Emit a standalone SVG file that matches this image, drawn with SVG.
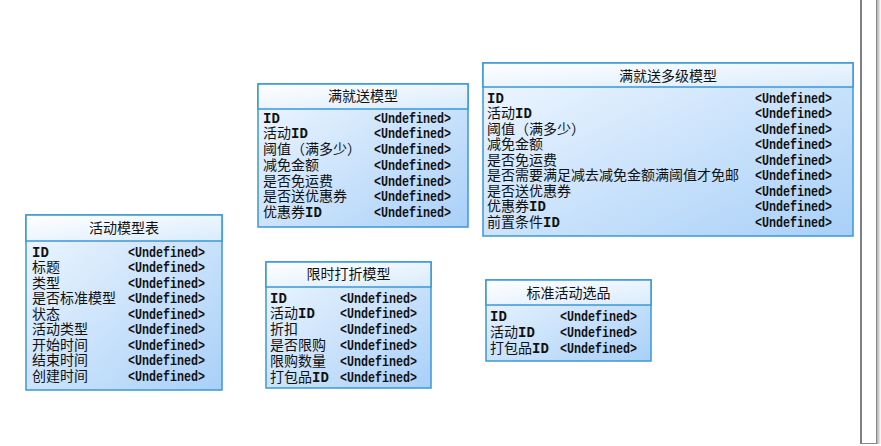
<svg xmlns="http://www.w3.org/2000/svg" width="881" height="446" viewBox="0 0 881 446">
<defs>
<linearGradient id="gHead" x1="0" y1="0" x2="1" y2="1">
<stop offset="0" stop-color="#ffffff"/>
<stop offset="1" stop-color="#d9ebfc"/>
</linearGradient>
<linearGradient id="gBody" x1="0" y1="0" x2="1" y2="1">
<stop offset="0" stop-color="#f0f7ff"/>
<stop offset="1" stop-color="#a9d0f8"/>
</linearGradient>
<linearGradient id="gShadow" x1="0" y1="0" x2="1" y2="0">
<stop offset="0" stop-color="#9a9a9a"/>
<stop offset="1" stop-color="#ffffff"/>
</linearGradient>
<style>
.head{fill:url(#gHead);stroke:#3a98d6;stroke-width:1.5}
.body{fill:url(#gBody);stroke:#3a98d6;stroke-width:1.5}
.title{font-family:"Noto Sans CJK SC","Liberation Sans",sans-serif;font-size:14px;fill:#111;text-anchor:middle}
.lbl{font-family:"Liberation Mono","Noto Sans CJK SC",monospace;font-size:14px;fill:#111}
.lbl tspan{font-weight:bold}
.und{font-family:"Liberation Mono",monospace;font-size:14px;fill:#111;font-weight:bold}
</style>
</defs>
<rect width="881" height="446" fill="#ffffff"/>

<g id="frame">
<rect x="876" y="0" width="5" height="444" fill="url(#gShadow)"/>
<line x1="861" y1="0" x2="861" y2="444" stroke="#555" stroke-width="1.5"/>
<line x1="876.5" y1="0" x2="876.5" y2="443" stroke="#8a8a8a" stroke-width="1"/>
<line x1="861" y1="443.5" x2="877" y2="443.5" stroke="#8a8a8a" stroke-width="1"/>
</g>

<g id="connectors"></g>

<g id="t-activity">
<rect class="body" x="26" y="215" width="196" height="175"/>
<rect class="head" x="26" y="215" width="196" height="26"/>
<text class="title" x="124" y="233">活动模型表</text>
<text class="lbl" x="32" y="256.5"><tspan>ID</tspan></text>
<text class="lbl" x="32" y="272">标题</text>
<text class="lbl" x="32" y="287.5">类型</text>
<text class="lbl" x="32" y="303">是否标准模型</text>
<text class="lbl" x="32" y="318.5">状态</text>
<text class="lbl" x="32" y="334">活动类型</text>
<text class="lbl" x="32" y="349.5">开始时间</text>
<text class="lbl" x="32" y="365">结束时间</text>
<text class="lbl" x="32" y="380.5">创建时间</text>
<g class="und">
<text x="128" y="256.5" textLength="77" lengthAdjust="spacingAndGlyphs">&lt;Undefined&gt;</text>
<text x="128" y="272" textLength="77" lengthAdjust="spacingAndGlyphs">&lt;Undefined&gt;</text>
<text x="128" y="287.5" textLength="77" lengthAdjust="spacingAndGlyphs">&lt;Undefined&gt;</text>
<text x="128" y="303" textLength="77" lengthAdjust="spacingAndGlyphs">&lt;Undefined&gt;</text>
<text x="128" y="318.5" textLength="77" lengthAdjust="spacingAndGlyphs">&lt;Undefined&gt;</text>
<text x="128" y="334" textLength="77" lengthAdjust="spacingAndGlyphs">&lt;Undefined&gt;</text>
<text x="128" y="349.5" textLength="77" lengthAdjust="spacingAndGlyphs">&lt;Undefined&gt;</text>
<text x="128" y="365" textLength="77" lengthAdjust="spacingAndGlyphs">&lt;Undefined&gt;</text>
<text x="128" y="380.5" textLength="77" lengthAdjust="spacingAndGlyphs">&lt;Undefined&gt;</text>
</g>
</g>

<g id="t-manjiusong">
<rect class="body" x="258" y="84" width="210" height="143"/>
<rect class="head" x="258" y="84" width="210" height="25"/>
<text class="title" x="363" y="101">满就送模型</text>
<text class="lbl" x="263" y="122.5"><tspan>ID</tspan></text>
<text class="lbl" x="263" y="138.25">活动<tspan>ID</tspan></text>
<text class="lbl" x="263" y="154">阈值（满多少）</text>
<text class="lbl" x="263" y="169.75">减免金额</text>
<text class="lbl" x="263" y="185.5">是否免运费</text>
<text class="lbl" x="263" y="201.25">是否送优惠券</text>
<text class="lbl" x="263" y="217">优惠券<tspan>ID</tspan></text>
<g class="und">
<text x="374" y="122.5" textLength="77" lengthAdjust="spacingAndGlyphs">&lt;Undefined&gt;</text>
<text x="374" y="138.25" textLength="77" lengthAdjust="spacingAndGlyphs">&lt;Undefined&gt;</text>
<text x="374" y="154" textLength="77" lengthAdjust="spacingAndGlyphs">&lt;Undefined&gt;</text>
<text x="374" y="169.75" textLength="77" lengthAdjust="spacingAndGlyphs">&lt;Undefined&gt;</text>
<text x="374" y="185.5" textLength="77" lengthAdjust="spacingAndGlyphs">&lt;Undefined&gt;</text>
<text x="374" y="201.25" textLength="77" lengthAdjust="spacingAndGlyphs">&lt;Undefined&gt;</text>
<text x="374" y="217" textLength="77" lengthAdjust="spacingAndGlyphs">&lt;Undefined&gt;</text>
</g>
</g>

<g id="t-manjiusong-multi">
<rect class="body" x="483" y="63" width="370" height="173"/>
<rect class="head" x="483" y="63" width="370" height="24"/>
<text class="title" x="668" y="81">满就送多级模型</text>
<text class="lbl" x="487" y="102.5"><tspan>ID</tspan></text>
<text class="lbl" x="487" y="118">活动<tspan>ID</tspan></text>
<text class="lbl" x="487" y="133.5">阈值（满多少）</text>
<text class="lbl" x="487" y="149">减免金额</text>
<text class="lbl" x="487" y="164.5">是否免运费</text>
<text class="lbl" x="487" y="180">是否需要满足减去减免金额满阈值才免邮</text>
<text class="lbl" x="487" y="195.5">是否送优惠券</text>
<text class="lbl" x="487" y="211">优惠券<tspan>ID</tspan></text>
<text class="lbl" x="487" y="226.5">前置条件<tspan>ID</tspan></text>
<g class="und">
<text x="755" y="102.5" textLength="77" lengthAdjust="spacingAndGlyphs">&lt;Undefined&gt;</text>
<text x="755" y="118" textLength="77" lengthAdjust="spacingAndGlyphs">&lt;Undefined&gt;</text>
<text x="755" y="133.5" textLength="77" lengthAdjust="spacingAndGlyphs">&lt;Undefined&gt;</text>
<text x="755" y="149" textLength="77" lengthAdjust="spacingAndGlyphs">&lt;Undefined&gt;</text>
<text x="755" y="164.5" textLength="77" lengthAdjust="spacingAndGlyphs">&lt;Undefined&gt;</text>
<text x="755" y="180" textLength="77" lengthAdjust="spacingAndGlyphs">&lt;Undefined&gt;</text>
<text x="755" y="195.5" textLength="77" lengthAdjust="spacingAndGlyphs">&lt;Undefined&gt;</text>
<text x="755" y="211" textLength="77" lengthAdjust="spacingAndGlyphs">&lt;Undefined&gt;</text>
<text x="755" y="226.5" textLength="77" lengthAdjust="spacingAndGlyphs">&lt;Undefined&gt;</text>
</g>
</g>

<g id="t-discount">
<rect class="body" x="266" y="262" width="165" height="126"/>
<rect class="head" x="266" y="262" width="165" height="25"/>
<text class="title" x="348.5" y="279">限时打折模型</text>
<text class="lbl" x="270" y="302.5"><tspan>ID</tspan></text>
<text class="lbl" x="270" y="318.3">活动<tspan>ID</tspan></text>
<text class="lbl" x="270" y="334.1">折扣</text>
<text class="lbl" x="270" y="349.9">是否限购</text>
<text class="lbl" x="270" y="365.7">限购数量</text>
<text class="lbl" x="270" y="381.5">打包品<tspan>ID</tspan></text>
<g class="und">
<text x="340" y="302.5" textLength="77" lengthAdjust="spacingAndGlyphs">&lt;Undefined&gt;</text>
<text x="340" y="318.3" textLength="77" lengthAdjust="spacingAndGlyphs">&lt;Undefined&gt;</text>
<text x="340" y="334.1" textLength="77" lengthAdjust="spacingAndGlyphs">&lt;Undefined&gt;</text>
<text x="340" y="349.9" textLength="77" lengthAdjust="spacingAndGlyphs">&lt;Undefined&gt;</text>
<text x="340" y="365.7" textLength="77" lengthAdjust="spacingAndGlyphs">&lt;Undefined&gt;</text>
<text x="340" y="381.5" textLength="77" lengthAdjust="spacingAndGlyphs">&lt;Undefined&gt;</text>
</g>
</g>

<g id="t-standard-items">
<rect class="body" x="486" y="280" width="165" height="81"/>
<rect class="head" x="486" y="280" width="165" height="25"/>
<text class="title" x="568.5" y="298">标准活动选品</text>
<text class="lbl" x="490" y="320.5"><tspan>ID</tspan></text>
<text class="lbl" x="490" y="336.5">活动<tspan>ID</tspan></text>
<text class="lbl" x="490" y="352.5">打包品<tspan>ID</tspan></text>
<g class="und">
<text x="560" y="320.5" textLength="77" lengthAdjust="spacingAndGlyphs">&lt;Undefined&gt;</text>
<text x="560" y="336.5" textLength="77" lengthAdjust="spacingAndGlyphs">&lt;Undefined&gt;</text>
<text x="560" y="352.5" textLength="77" lengthAdjust="spacingAndGlyphs">&lt;Undefined&gt;</text>
</g>
</g>
</svg>
